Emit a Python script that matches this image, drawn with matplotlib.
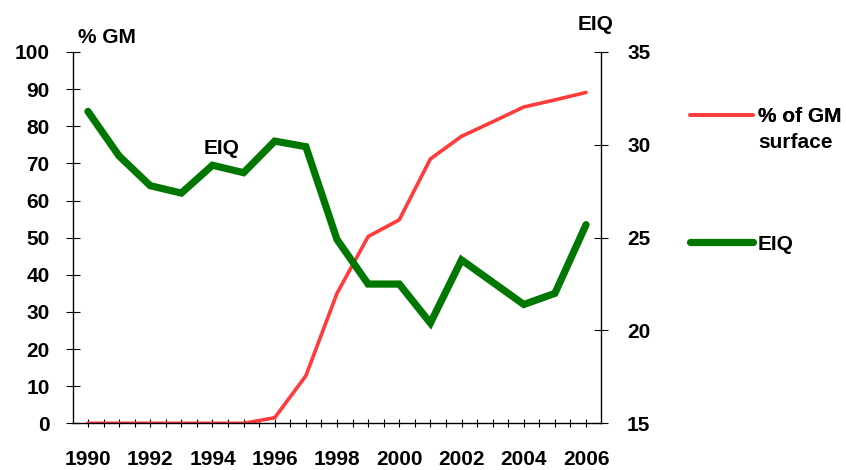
import numpy as np
import matplotlib
matplotlib.use("Agg")
import matplotlib.pyplot as plt

plt.rcParams['font.family'] = ['Liberation Sans', 'DejaVu Sans']
plt.rcParams['font.weight'] = 'bold'

years = list(range(1990, 2007))
gm_pct = [0, 0, 0, 0, 0, 0, 1.5, 12.8, 35.0, 50.3, 54.8, 71.2, 77.3, 81.2, 85.2, 87.1, 89.1]
eiq = [31.8, 29.4, 27.8, 27.4, 28.9, 28.5, 30.2, 29.9, 24.9, 22.5, 22.5, 20.4, 23.8, 22.6, 21.4, 22.0, 25.7]
label_years = list(range(1990, 2007, 2))
left_ticks = list(range(0, 101, 10))
right_ticks = [15, 20, 25, 30, 35]

FS = 15

fig = plt.figure(figsize=(8.46, 4.70), dpi=100)
ax = fig.add_axes([73/846, 1-423.3/470, (601-73)/846, (423.3-52)/470])
ax2 = ax.twinx()

red_line, = ax.plot(years, gm_pct, color='#ff3b3b', lw=2.6, solid_capstyle='round',
                    label='% of GM')
green_line, = ax2.plot(years, eiq, color='#007700', lw=5.2, solid_capstyle='round',
                       solid_joinstyle='miter', label='EIQ')

ax.set_xlim(1989.52, 2006.48)
ax.set_ylim(0, 100)
ax2.set_ylim(15, 35)

xt = np.arange(1990, 2006.01, 0.5)
ax.set_xticks(xt)
ax.set_xticklabels([str(int(t)) if (t == int(t) and int(t) in label_years) else '' for t in xt])
ax.set_yticks(left_ticks)
ax2.set_yticks(right_ticks)

for a in (ax, ax2):
    a.spines['top'].set_visible(False)
    for s in a.spines.values():
        s.set_linewidth(1.0)
        s.set_color('black')
ax.spines['right'].set_visible(False)
ax2.spines['left'].set_visible(False)
ax2.spines['bottom'].set_visible(False)

ax.tick_params(axis='x', direction='inout', length=6, width=0.8, pad=16, labelsize=FS)
ax.tick_params(axis='y', direction='inout', length=9.5, width=0.8, pad=12, labelsize=FS)
ax2.tick_params(axis='y', direction='inout', length=9.5, width=0.8, pad=14, labelsize=FS)
for lab in ax.get_xticklabels() + ax.get_yticklabels() + ax2.get_yticklabels():
    lab.set_fontweight('bold')

ax.text(0.01, 1.038, '% GM', transform=ax.transAxes, ha='left', va='center',
        fontsize=FS, fontweight='bold')
ax.text(0.989, 1.073, 'EIQ', transform=ax.transAxes, ha='center', va='center',
        fontsize=FS, fontweight='bold')
ax.text(1994.3, 74, 'EIQ', ha='center', va='center', fontsize=FS, fontweight='bold')

leg_kw = dict(frameon=False, borderpad=0, borderaxespad=0, handlelength=3.0,
              handletextpad=0.25, prop={'weight': 'bold', 'size': FS})
leg1 = fig.legend(handles=[red_line], loc='center left',
                  bbox_to_anchor=(690/846, 1-117/470), **leg_kw)
fig.add_artist(leg1)
fig.text(758/846, 1-143/470, 'surface', ha='left', va='center', fontsize=FS, fontweight='bold')
leg2 = fig.legend(handles=[green_line], loc='center left',
                  bbox_to_anchor=(690/846, 1-244/470), **leg_kw)

fig.savefig('out.png', dpi=100)
